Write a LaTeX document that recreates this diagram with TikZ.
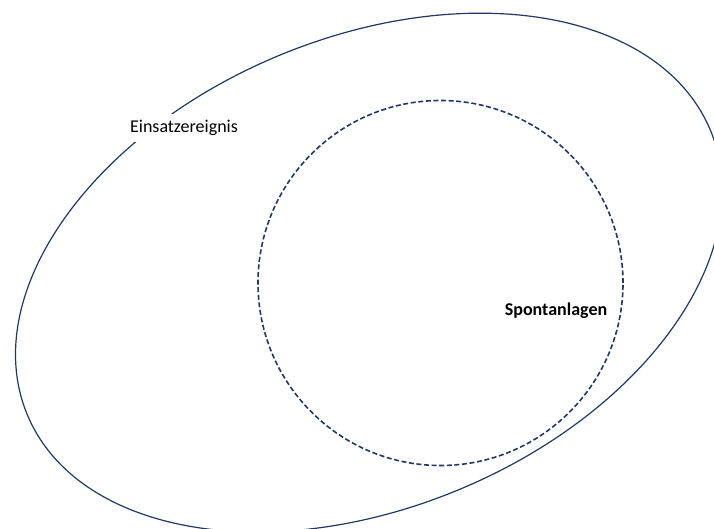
\documentclass[tikz,border=0pt]{standalone}
\usepackage{fontspec}
\setmainfont{Carlito}
\usetikzlibrary{shapes.geometric}
\definecolor{navy}{RGB}{31,56,100}
\begin{document}
\begin{tikzpicture}[x=1pt,y=1pt,
  outerset/.style={draw=navy,line width=1.2pt},
  innerset/.style={draw=navy,line width=1.6pt,dash pattern=on 5pt off 2.6pt},
  setlabel/.style={font=\fontsize{18}{20}\selectfont,text=black}]
  \useasboundingbox (0,0) rectangle (714,528);
  % outer set: tilted ellipse
  \node[outerset,ellipse,minimum width=2*370pt,minimum height=2*235pt,
        rotate=22.6,inner sep=0pt] (einsatz) at (368.9,255.4) {};
  % inner set: dashed circle
  \node[innerset,circle,minimum size=2*182.5pt,inner sep=0pt] (spontan) at (440.5,245) {};
  % labels
  \node[setlabel,fill=white,inner xsep=1pt,inner ysep=6pt] (lblE) at (184,400) {Einsatzereignis};
  \node[setlabel,font=\fontsize{18}{20}\selectfont\bfseries] (lblS) at (556,217) {Spontanlagen};
\end{tikzpicture}
\end{document}
